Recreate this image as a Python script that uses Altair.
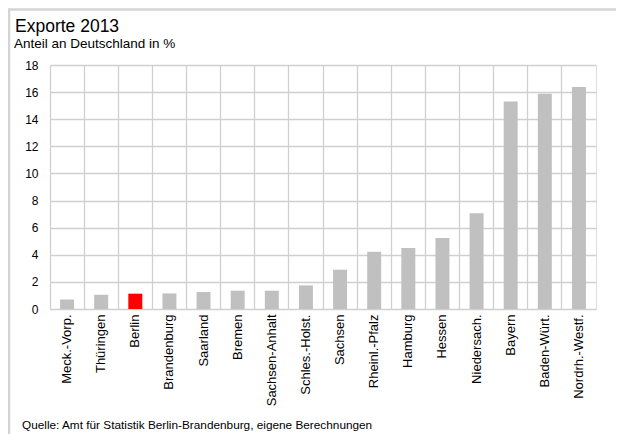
import altair as alt
import pandas as pd

laender = ["Meck.-Vorp.", "Thüringen", "Berlin", "Brandenburg", "Saarland", "Bremen",
           "Sachsen-Anhalt", "Schles.-Holst.", "Sachsen", "Rheinl.-Pfalz", "Hamburg",
           "Hessen", "Niedersach.", "Bayern", "Baden-Würt.", "Nordrh.-Westf."]
anteil = [0.7, 1.05, 1.13, 1.15, 1.25, 1.35, 1.35, 1.74, 2.9, 4.22, 4.5, 5.23, 7.07, 15.3, 15.87, 16.38]
highlight = "Berlin"
y_ticks = list(range(0, 19, 2))
title_text = "Exporte 2013"
subtitle_text = "Anteil an Deutschland in %"
source_text = "Quelle: Amt für Statistik Berlin-Brandenburg, eigene Berechnungen"

df = pd.DataFrame({"Land": laender, "Anteil": anteil})
df["hl"] = df["Land"] == highlight

FONT = "Liberation Sans"

base = alt.Chart(df)

bars = base.mark_bar(width=alt.RelativeBandSize(0.41)).encode(
    x=alt.X("Land:N", sort=laender, title=None,
            scale=alt.Scale(paddingInner=0, paddingOuter=0),
            axis=alt.Axis(labelAngle=-90, labelFontSize=13, labelColor="black",
                          labelFont=FONT, labelPadding=5, ticks=False, domain=False,
                          grid=True, bandPosition=0, gridColor="#d0d0d0", gridWidth=1.3)),
    y=alt.Y("Anteil:Q", title=None,
            scale=alt.Scale(domain=[0, 18], nice=False),
            axis=alt.Axis(values=y_ticks, labelFontSize=12, labelColor="black", labelFont=FONT,
                          labelPadding=12, ticks=False, domain=False,
                          gridColor="#d0d0d0", gridWidth=1.3)),
    color=alt.condition(alt.datum.hl, alt.value("#ff0000"), alt.value("#c0c0c0")),
)

one = alt.Data(values=[{"a": 1}])
frame_top = alt.Chart(one).mark_rule(color="#d4d4d4", strokeWidth=2.5).encode(
    x=alt.value(-42), x2=alt.value(580), y=alt.value(-55.5))
frame_left = alt.Chart(one).mark_rule(color="#d4d4d4", strokeWidth=2.5).encode(
    x=alt.value(-41), y=alt.value(-56), y2=alt.value(370))


def text_layer(txt, x, y, size):
    return alt.Chart(alt.Data(values=[{"t": txt}])).mark_text(
        align="left", baseline="alphabetic", fontSize=size, font=FONT, color="black").encode(
        text="t:N", x=alt.value(x), y=alt.value(y))


title = text_layer(title_text, -35, -33, 17.5)
subtitle = text_layer(subtitle_text, -36, -17, 13.5)
footer = text_layer(source_text, -28, 364, 11.8)

chart = alt.layer(frame_top, frame_left, bars, title, subtitle, footer).properties(
    width=546, height=244,
    autosize=alt.AutoSizeParams(type="none"),
    padding={"left": 42, "top": 57, "right": 20, "bottom": 125},
).configure_view(stroke="#c8c8c8", strokeWidth=1.5).configure(background="white")

chart.save("out.html", embed_options={"renderer": "svg", "actions": False})
